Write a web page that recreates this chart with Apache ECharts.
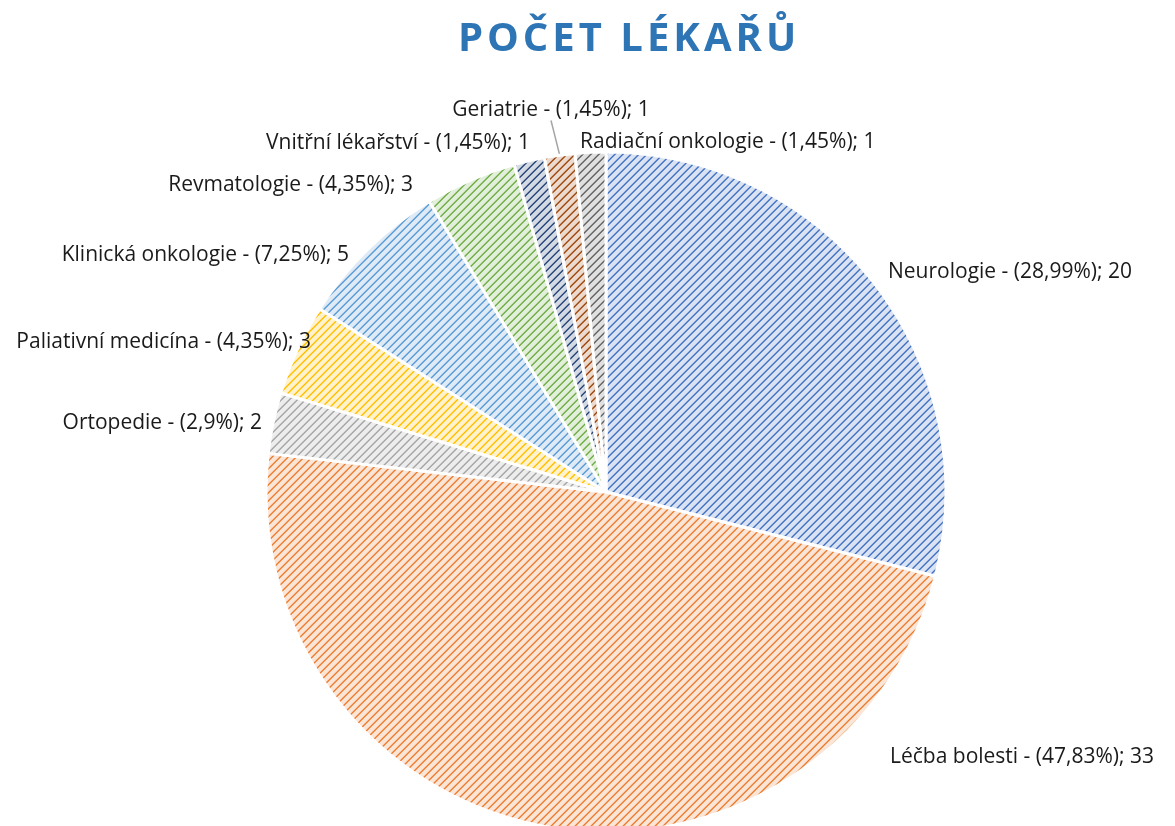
<!DOCTYPE html>
<html><head><meta charset="utf-8">
<script src="https://cdn.jsdelivr.net/npm/echarts@6/dist/echarts.min.js"></script>
<style>html,body{margin:0;padding:0;background:#fff}#c{width:1175px;height:826px}</style>
</head><body><div id="c"></div>
<script>
var categories = ['Neurologie','Léčba bolesti','Ortopedie','Paliativní medicína','Klinická onkologie','Revmatologie','Vnitřní lékařství','Geriatrie','Radiační onkologie'];
var values = [20,33,2,3,5,3,1,1,1];
var colors = ['#4472C4','#ED7D31','#A5A5A5','#FFC000','#5B9BD5','#70AD47','#264478','#9E480E','#636363'];
var titleText = 'POČET LÉKAŘŮ';
// label anchor positions [x, y, align]
var labelPos = [[888,272,'left'],[890,757,'left'],[262,423,'right'],[311,342,'right'],[349,255,'right'],[413,185,'right'],[530,143,'right'],[551,110,'center'],[580,142,'left']];

function hex(c){return [parseInt(c.substr(1,2),16),parseInt(c.substr(3,2),16),parseInt(c.substr(5,2),16)];}
function mix(a,b,t){return [0,1,2].map(function(i){return Math.round(a[i]*t+b[i]*(1-t));});}
function pattern(col){
  var cv=document.createElement('canvas');cv.width=8;cv.height=8;
  var ctx=cv.getContext('2d');var img=ctx.createImageData(8,8);
  var fg=hex(col),w=[255,255,255],bg=mix(fg,w,0.2);
  for(var y=0;y<8;y++)for(var x=0;x<8;x++){
    var d=(x+y)%8,c;
    if(d===0)c=fg;else if(d===1)c=mix(fg,bg,0.7);else if(d===7)c=mix(fg,bg,0.3);else c=bg;
    var k=(y*8+x)*4;img.data[k]=c[0];img.data[k+1]=c[1];img.data[k+2]=c[2];img.data[k+3]=255;
  }
  ctx.putImageData(img,0,0);return cv;
}
var total=values.reduce(function(a,b){return a+b;},0);
var data=categories.map(function(n,i){
  return {name:n,value:values[i],itemStyle:{color:{image:pattern(colors[i]),repeat:'repeat'}},
    labelLine:{show:i===7}};
});
var chart=echarts.init(document.getElementById('c'),null,{renderer:'canvas'});
chart.setOption({
  animation:false,
  title:{text:titleText.split('').join('\u200A'),left:622,top:15,textAlign:'center',
    textStyle:{fontFamily:'Open Sans',fontWeight:'bold',fontSize:40,color:'#2E75B6'}},
  series:[{type:'pie',center:[606,492],radius:340,startAngle:90,clockwise:true,
    data:data,
    itemStyle:{borderColor:'#fff',borderWidth:3},
    label:{show:true,position:'outside',overflow:'none',width:400,fontFamily:'Open Sans',fontSize:21,color:'#1a1a1a',
      formatter:function(p){var pc=parseFloat((p.value/total*100).toFixed(2)).toString().replace('.',',');return p.name+' - ('+pc+'%); '+p.value;}},
    labelLine:{show:false,length:10,length2:0,lineStyle:{color:'#A6A6A6',width:1.5}},
    labelLayout:function(p){var lp=labelPos[p.dataIndex];return {x:lp[0],y:lp[1],align:lp[2],verticalAlign:'middle'};}
  }]
});
</script></body></html>
